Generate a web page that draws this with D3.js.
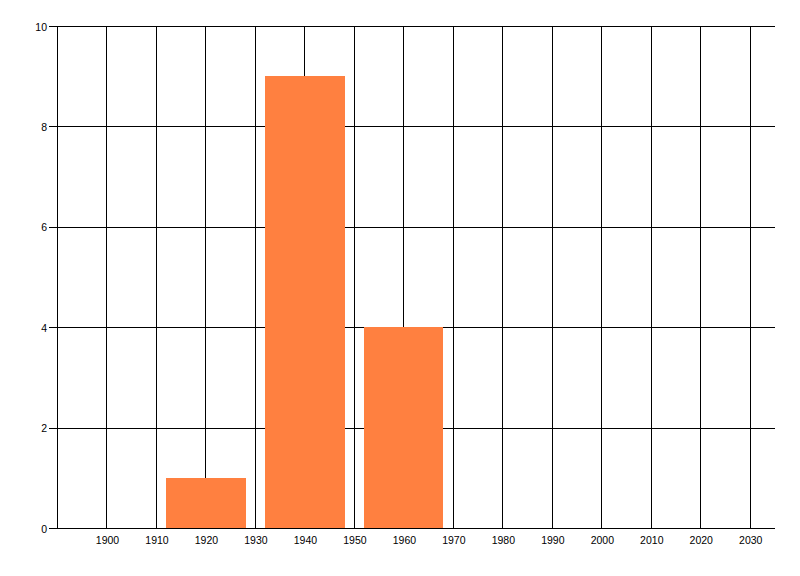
<!DOCTYPE html>
<html>
<head>
<meta charset="utf-8">
<script src="https://cdn.jsdelivr.net/npm/d3@7"></script>
<style>
html,body{margin:0;padding:0;background:#fff;}
svg{display:block;}
text{font-family:"Liberation Sans",Arial,sans-serif;font-size:10.5px;fill:#000;}
</style>
</head>
<body>
<svg id="chart" width="800" height="576"></svg>
<script>
const years = [1920, 1940, 1960];
const counts = [1, 9, 4];
const xTicks = [1900,1910,1920,1930,1940,1950,1960,1970,1980,1990,2000,2010,2020,2030];
const yTicks = [0, 2, 4, 6, 8, 10];

(function () {
const svg = d3.select("#chart");
const pLeft = 57.5, pRight = 775, pTop = 26.5, pBottom = 528.5;
const x = d3.scaleLinear().domain([1890, 2035]).range([pLeft, pRight]);
const y = d3.scaleLinear().domain([0, 10]).range([pBottom, pTop]);
const halfBar = 8;
const snap = v => Math.round(v - 0.5) + 0.5;

// vertical grid
svg.append("g").selectAll("line").data(xTicks).join("line")
  .attr("x1", d => snap(x(d))).attr("x2", d => snap(x(d)))
  .attr("y1", pTop).attr("y2", pBottom)
  .attr("stroke", "#000").attr("stroke-width", 1);

// horizontal grid + y ticks
svg.append("g").selectAll("line").data(yTicks).join("line")
  .attr("x1", 49).attr("x2", pRight)
  .attr("y1", d => snap(y(d))).attr("y2", d => snap(y(d)))
  .attr("stroke", "#000").attr("stroke-width", 1);

// bars (over grid)
svg.append("g").selectAll("rect").data(years).join("rect")
  .attr("x", d => Math.round(x(d - halfBar)))
  .attr("width", d => Math.round(x(d + halfBar)) - Math.round(x(d - halfBar)))
  .attr("y", (d, i) => Math.round(y(counts[i]) - 0.5))
  .attr("height", (d, i) => Math.round(y(0) - 0.5) - Math.round(y(counts[i]) - 0.5))
  .attr("fill", "#FF8040");

// axis lines on top
svg.append("line").attr("x1", pLeft).attr("x2", pLeft).attr("y1", pTop).attr("y2", pBottom)
  .attr("stroke", "#000");
svg.append("line").attr("x1", 49).attr("x2", pRight).attr("y1", snap(y(0))).attr("y2", snap(y(0)))
  .attr("stroke", "#000");

// y labels
svg.append("g").selectAll("text").data(yTicks).join("text")
  .attr("x", 47).attr("y", d => y(d) + 4)
  .attr("text-anchor", "end").text(d => d);

// x labels
const xAxis = d3.axisBottom(x).tickValues(xTicks).tickSize(0).tickPadding(0).tickFormat(d3.format("d"));
const gx = svg.append("g").attr("transform", `translate(0,${pBottom})`).call(xAxis);
gx.select(".domain").remove();
gx.selectAll("text").attr("dy", null).attr("y", 15.5)
  .style("font-family", '"Liberation Sans",Arial,sans-serif').style("font-size", "10.5px").attr("fill", "#000");
})();
</script>
</body>
</html>
